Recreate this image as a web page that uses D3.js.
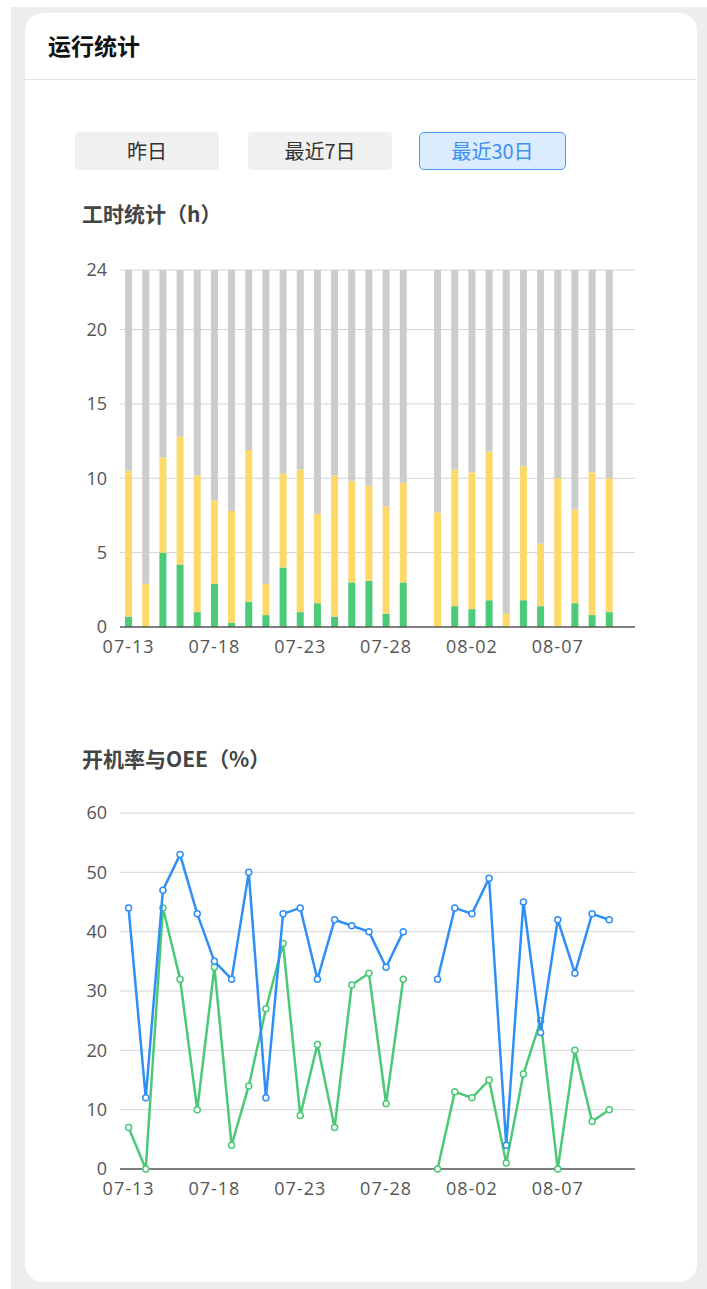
<!DOCTYPE html>
<html lang="zh-CN">
<head>
<meta charset="UTF-8">
<title>运行统计</title>
<script src="https://d3js.org/d3.v7.min.js"></script>
<style>
    body { margin: 0; background: #fff; font-family: "Noto Sans CJK SC", "Noto Sans", sans-serif; }
    .wrap { position: absolute; left: 11px; top: 7px; width: 696px; height: 1282px; background: #ededed; }
    .card { position: absolute; left: 25px; top: 13px; width: 672px; height: 1269px; background: #fff; border-radius: 18px; }
    .head { position: absolute; left: 0; top: 0; width: 672px; height: 66px; border-bottom: 1px solid #e4e4e4; }
    .head span { position: absolute; left: 23px; top: 16px; font-size: 23px; line-height: 33px; font-weight: bold; color: #111; }
    .btn { position: absolute; top: 119px; height: 38px; line-height: 38px; text-align: center; font-size: 20px;
           color: #333; background: #f0f0f0; border-radius: 4px; box-sizing: border-box; }
    .btn.on { background: #dcecff; border: 1px solid #4a9af5; color: #3d8ff0; line-height: 36px; border-radius: 5px; }
    .sec { position: absolute; left: 57px; font-size: 21px; line-height: 30px; font-weight: bold; color: #444; }
    svg { position: absolute; left: 0; top: 0; }
    .tick { font-family: "Open Sans", sans-serif; font-size: 18px; fill: #555; }
</style>
</head>
<body>
<div class="wrap"></div>
<div class="card">
    <div class="head"><span>运行统计</span></div>
    <div class="btn" style="left:50px;width:144px;">昨日</div>
    <div class="btn" style="left:223px;width:144px;">最近7日</div>
    <div class="btn on" style="left:394px;width:147px;">最近30日</div>
    <div class="sec" style="top:185px;">工时统计（h）</div>
    <div class="sec" style="top:730px;">开机率与OEE（%）</div>
</div>
<svg id="chart" width="707" height="1289"></svg>

<script>
    const dates = ["07-13","07-14","07-15","07-16","07-17","07-18","07-19","07-20","07-21","07-22",
                   "07-23","07-24","07-25","07-26","07-27","07-28","07-29","07-30","07-31","08-01",
                   "08-02","08-03","08-04","08-05","08-06","08-07","08-08","08-09","08-10","08-11"];
    const xTicks = ["07-13","07-18","07-23","07-28","08-02","08-07"];

    // hours: green = running, yellow = standby, grey = off
    const runHours     = [0.7, 0, 5.0, 4.2, 1.0, 2.9, 0.3, 1.7, 0.8, 4.0, 1.0, 1.6, 0.7, 3.0, 3.1, 0.9, 3.0, null, 0, 1.4, 1.2, 1.8, 0, 1.8, 1.4, 0, 1.6, 0.8, 1.0, null];
    const standbyHours = [9.8, 2.9, 6.4, 8.6, 9.2, 5.6, 7.5, 10.2, 2.1, 6.3, 9.6, 6.0, 9.5, 6.8, 6.4, 7.2, 6.7, null, 7.7, 9.2, 9.2, 10.0, 0.9, 9.0, 4.2, 10.0, 6.3, 9.6, 9.0, null];
    const offHours     = [13.5, 21.1, 12.6, 11.2, 13.8, 15.5, 16.2, 12.1, 21.1, 13.7, 13.4, 16.4, 13.8, 14.2, 14.5, 15.9, 14.3, null, 16.3, 13.4, 13.6, 12.2, 23.1, 13.2, 18.4, 14.0, 16.1, 13.6, 14.0, null];
    const hourTicks = [0, 5, 10, 15, 20, 24];

    // percentages
    const bootRate = [44, 12, 47, 53, 43, 35, 32, 50, 12, 43, 44, 32, 42, 41, 40, 34, 40, null, 32, 44, 43, 49, 4, 45, 23, 42, 33, 43, 42, null];
    const oee      = [7, 0, 44, 32, 10, 34, 4, 14, 27, 38, 9, 21, 7, 31, 33, 11, 32, null, 0, 13, 12, 15, 1, 16, 25, 0, 20, 8, 10, null];
    const pctTicks = [0, 10, 20, 30, 40, 50, 60];

    const colors = { run: "#4bca77", standby: "#fdd96a", off: "#cccccc", boot: "#2f8ff5", oee: "#4bc977" };
    const svg = d3.select("#chart");
    const left = 120, right = 635, barW = 7;

    const x = d3.scaleBand().domain(dates).range([left, right]).padding(0);
    const cx = d => x(d) + x.bandwidth() / 2;

    function frame(y, ticks, bottom) {
        const g = svg.append("g");
        g.selectAll("line.grid").data(ticks.filter(t => t !== 0)).enter().append("line")
            .attr("x1", left).attr("x2", right)
            .attr("y1", d => y(d)).attr("y2", d => y(d))
            .attr("stroke", "#d4d4d4").attr("stroke-width", 1);
        g.selectAll("text.yl").data(ticks).enter().append("text")
            .attr("class", "tick")
            .attr("x", 107).attr("y", d => y(d)).attr("dy", "0.35em")
            .attr("text-anchor", "end")
            .text(d => d);
        g.selectAll("text.xl").data(xTicks).enter().append("text")
            .attr("class", "tick")
            .attr("x", d => cx(d)).attr("y", bottom + 20).attr("dy", "0.35em")
            .attr("text-anchor", "middle").attr("letter-spacing", 1)
            .text(d => d);
        return g;
    }

    // ---- bar chart
    const yH = d3.scaleLinear().domain([0, 24]).range([627, 270]);
    frame(yH, hourTicks, 627);

    const rows = dates.map((d, i) => ({ date: d, run: runHours[i], standby: standbyHours[i], off: offHours[i] }))
        .filter(r => r.run !== null);
    const stack = d3.stack().keys(["run", "standby", "off"])(rows);

    svg.append("g").selectAll("g").data(stack).enter().append("g")
        .attr("fill", s => colors[s.key])
        .selectAll("rect").data(s => s).enter().append("rect")
        .attr("x", d => cx(d.data.date) - barW / 2)
        .attr("width", barW)
        .attr("y", d => yH(d[1]))
        .attr("height", d => yH(d[0]) - yH(d[1]));

    svg.append("line").attr("x1", left).attr("x2", right)
        .attr("y1", yH(0)).attr("y2", yH(0)).attr("stroke", "#555").attr("stroke-width", 1.5);

    // ---- line chart
    const yP = d3.scaleLinear().domain([0, 60]).range([1169, 813]);
    frame(yP, pctTicks, 1169);
    svg.append("line").attr("x1", left).attr("x2", right)
        .attr("y1", yP(0)).attr("y2", yP(0)).attr("stroke", "#555").attr("stroke-width", 1.5);

    const line = d3.line()
        .defined(d => d.v !== null)
        .x(d => cx(d.date))
        .y(d => yP(d.v));

    [["oee", oee], ["boot", bootRate]].forEach(([key, vals]) => {
        const pts = dates.map((d, i) => ({ date: d, v: vals[i] }));
        svg.append("path").datum(pts)
            .attr("fill", "none").attr("stroke", colors[key]).attr("stroke-width", 2.5)
            .attr("stroke-linejoin", "round")
            .attr("d", line);
        svg.append("g").selectAll("circle").data(pts.filter(p => p.v !== null)).enter().append("circle")
            .attr("cx", p => cx(p.date)).attr("cy", p => yP(p.v)).attr("r", 3)
            .attr("fill", "#fff").attr("stroke", colors[key]).attr("stroke-width", 1.5);
    });
</script>
</body>
</html>
